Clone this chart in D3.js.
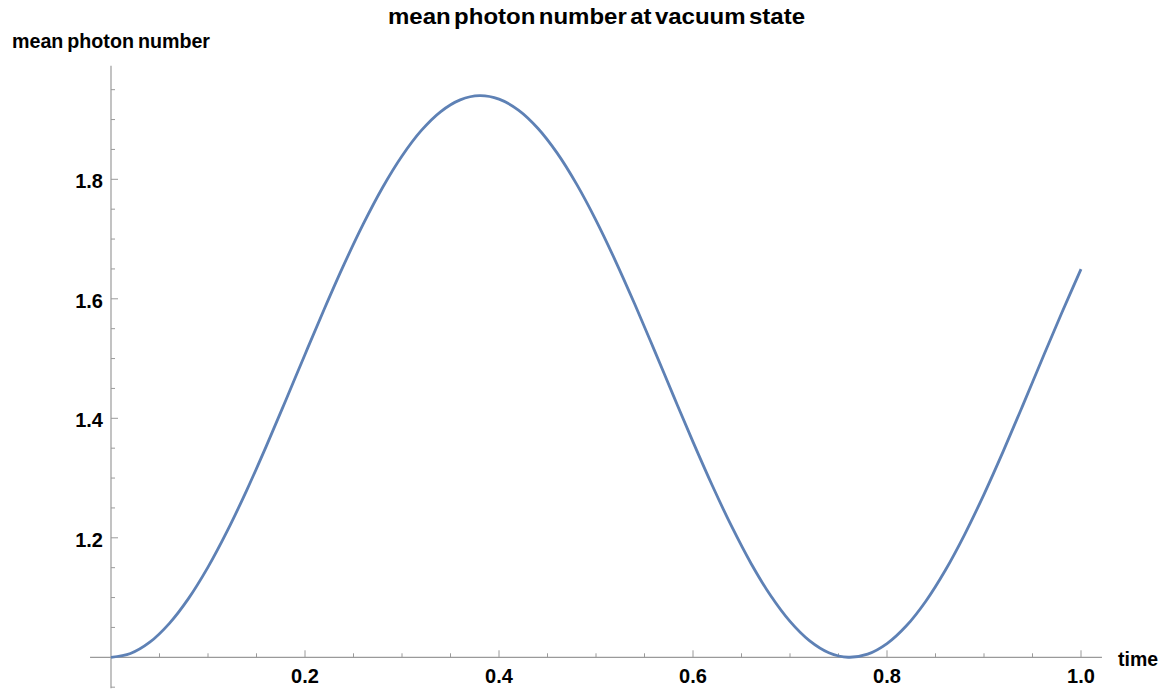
<!DOCTYPE html>
<html>
<head>
<meta charset="utf-8">
<script src="https://cdn.jsdelivr.net/npm/d3@7"></script>
<style>
  html, body { margin: 0; padding: 0; background: #fff; }
  svg { display: block; font-family: "Liberation Sans", Arial, sans-serif; }
</style>
</head>
<body>
<svg id="chart" width="1169" height="693"></svg>
<script>
// ---- data ----
const timeValues = [0.00,0.02,0.04,0.06,0.08,0.10,0.12,0.14,0.16,0.18,
  0.20,0.22,0.24,0.26,0.28,0.30,0.32,0.34,0.36,0.38,
  0.40,0.42,0.44,0.46,0.48,0.50,0.52,0.54,0.56,0.58,
  0.60,0.62,0.64,0.66,0.68,0.70,0.72,0.74,0.76,0.78,
  0.80,0.82,0.84,0.86,0.88,0.90,0.92,0.94,0.96,0.98,1.00];
const photonValues = [1.0000,1.0064,1.0253,1.0564,1.0986,1.1509,1.2119,1.2799,1.3530,1.4294,
  1.5069,1.5833,1.6567,1.7249,1.7863,1.8390,1.8818,1.9134,1.9330,1.9400,
  1.9342,1.9159,1.8855,1.8438,1.7919,1.7313,1.6636,1.5908,1.5145,1.4371,
  1.3606,1.2871,1.2185,1.1566,1.1034,1.0601,1.0279,1.0077,1.0001,1.0052,
  1.0229,1.0527,1.0939,1.1453,1.2055,1.2728,1.3455,1.4217,1.4993,1.5758,1.6496];
const xMajorTicks = [0.2, 0.4, 0.6, 0.8, 1.0];
const xTickLabels = ["0.2", "0.4", "0.6", "0.8", "1.0"];
const yMajorTicks = [1.2, 1.4, 1.6, 1.8];
const yTickLabels = ["1.2", "1.4", "1.6", "1.8"];
const xMinorTicks = [0.05,0.1,0.15,0.25,0.3,0.35,0.45,0.5,0.55,0.65,0.7,0.75,0.85,0.9,0.95];
const yMinorTicks = [0.95,1.05,1.1,1.15,1.25,1.3,1.35,1.45,1.5,1.55,1.65,1.7,1.75,1.85,1.9,1.95];
const titleText = "mean photon number at vacuum state";
const xLabelText = "time";
const yLabelText = "mean photon number";

// ---- scales ----
const x = d3.scaleLinear().domain([0, 1]).range([111, 1081]);
const y = d3.scaleLinear().domain([1, 1.8]).range([657.3, 179.3]);

const svg = d3.select("#chart");
const axisColor = "#9a9a9a";

// axes lines
const g = svg.append("g");
g.append("line")
  .attr("x1", x(-0.0216)).attr("x2", x(1.0216))
  .attr("y1", y(1)).attr("y2", y(1))
  .attr("stroke", axisColor).attr("stroke-width", 1.2);
g.append("line")
  .attr("x1", x(0)).attr("x2", x(0))
  .attr("y1", y(0.948)).attr("y2", y(1.99))
  .attr("stroke", axisColor).attr("stroke-width", 1.2);

// x ticks (inward, upward)
g.selectAll(".xmaj").data(xMajorTicks).enter().append("line")
  .attr("x1", d => x(d)).attr("x2", d => x(d))
  .attr("y1", y(1)).attr("y2", y(1) - 7)
  .attr("stroke", axisColor).attr("stroke-width", 1);
g.selectAll(".xmin").data(xMinorTicks).enter().append("line")
  .attr("x1", d => x(d)).attr("x2", d => x(d))
  .attr("y1", y(1)).attr("y2", y(1) - 4)
  .attr("stroke", axisColor).attr("stroke-width", 1);

// y ticks (inward, rightward)
g.selectAll(".ymaj").data(yMajorTicks).enter().append("line")
  .attr("x1", x(0)).attr("x2", x(0) + 7)
  .attr("y1", d => y(d)).attr("y2", d => y(d))
  .attr("stroke", axisColor).attr("stroke-width", 1);
g.selectAll(".ymin").data(yMinorTicks).enter().append("line")
  .attr("x1", x(0)).attr("x2", x(0) + 4)
  .attr("y1", d => y(d)).attr("y2", d => y(d))
  .attr("stroke", axisColor).attr("stroke-width", 1);

// tick labels
g.selectAll(".xlab").data(xMajorTicks).enter().append("text")
  .attr("x", d => x(d)).attr("y", y(1) + 26)
  .attr("text-anchor", "middle")
  .attr("font-size", 20).attr("font-weight", "bold").attr("fill", "#000")
  .text((d, i) => xTickLabels[i]);
g.selectAll(".ylab").data(yMajorTicks).enter().append("text")
  .attr("x", 103).attr("y", d => y(d) + 9)
  .attr("text-anchor", "end")
  .attr("font-size", 20).attr("font-weight", "bold").attr("fill", "#000")
  .text((d, i) => yTickLabels[i]);

// curve
const line = d3.line()
  .x((d, i) => x(timeValues[i]))
  .y(d => y(d))
  .curve(d3.curveCatmullRom.alpha(0.5));
svg.append("path")
  .datum(photonValues)
  .attr("d", line)
  .attr("fill", "none")
  .attr("stroke", "#5e81b5")
  .attr("stroke-width", 2.8)
  .attr("stroke-linejoin", "round");

// titles
svg.append("text")
  .attr("x", 596.5).attr("y", 24)
  .attr("text-anchor", "middle")
  .attr("font-size", 22).attr("font-weight", "bold").attr("fill", "#000")
  .attr("word-spacing", -3)
  .attr("textLength", 417).attr("lengthAdjust", "spacingAndGlyphs")
  .text(titleText);
svg.append("text")
  .attr("x", 12).attr("y", 47.5)
  .attr("font-size", 19.5).attr("font-weight", "bold").attr("fill", "#000")
  .attr("word-spacing", -1.5)
  .attr("textLength", 198).attr("lengthAdjust", "spacingAndGlyphs")
  .text(yLabelText);
svg.append("text")
  .attr("x", 1118).attr("y", 666)
  .attr("font-size", 20).attr("font-weight", "bold").attr("fill", "#000")
  .attr("textLength", 40).attr("lengthAdjust", "spacingAndGlyphs")
  .text(xLabelText);
</script>
</body>
</html>
